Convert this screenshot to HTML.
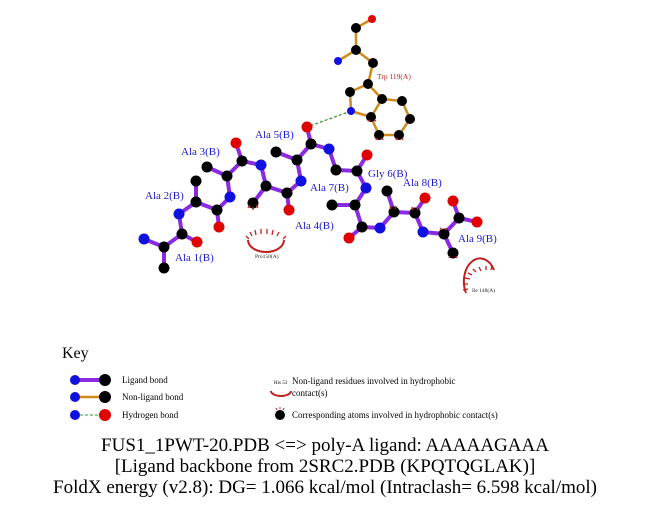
<!DOCTYPE html>
<html><head><meta charset="utf-8"><style>body{margin:0;background:#fff}svg{display:block}text{font-family:"Liberation Serif",serif}</style></head><body>
<svg width="651" height="511" viewBox="0 0 651 511" xmlns="http://www.w3.org/2000/svg">
<g stroke="#d08c1a" stroke-width="2.5" fill="none">
<path d="M372,19 L356,28 L356,50 L338,61 M356,50 L373,63 L368,84 L350,92 L351,111 L371,117 L382,99 L368,84 M382,99 L402,101 L410,119 L399,135 L379,135 L371,117"/>
</g>
<line x1="351" y1="111" x2="307" y2="127" stroke="#3a9a3a" stroke-width="1.3" stroke-dasharray="3,2"/>
<g stroke="#8a2be2" stroke-width="4" fill="none" stroke-linecap="round">
<path d="M307,127 L311,144 L329,149 L336,170 L357,171 L367,155 M357,171 L366,188 L355,205 L332,205 M355,205 L362,227 L349,238 M362,227 L380,228 L394,212 L387,191 M394,212 L415,213 L425,198 M415,213 L423,232 L444,234 L459,218 L453,201 M459,218 L477,222 M444,234 L453,253"/>
<path d="M311,144 L297,160 L276,152 M297,160 L301,181 L287,193 L289,210 M287,193 L266,186 L253,203 M266,186 L261,165 L242,161 L236,143 M242,161 L227,176 L207,167 M227,176 L230,197 L217,210 L219,227 M217,210 L196,202 L196,181 M196,202 L179,214 L182,234 L197,242 M182,234 L164,247 L144,239 M164,247 L164,268"/>
</g>
<g fill="#000">
<circle cx="356" cy="28" r="5"/><circle cx="356" cy="50" r="5"/><circle cx="373" cy="63" r="5"/><circle cx="368" cy="84" r="5"/><circle cx="350" cy="92" r="5"/><circle cx="371" cy="117" r="5"/><circle cx="382" cy="99" r="5"/><circle cx="402" cy="101" r="5"/><circle cx="410" cy="119" r="5"/><circle cx="399" cy="135" r="5"/><circle cx="379" cy="135" r="5"/>
<circle cx="311" cy="144" r="5.5"/><circle cx="297" cy="160" r="5.5"/><circle cx="276" cy="152" r="5.5"/><circle cx="287" cy="193" r="5.5"/><circle cx="266" cy="186" r="5.5"/><circle cx="253" cy="203" r="5.5"/><circle cx="242" cy="161" r="5.5"/><circle cx="227" cy="176" r="5.5"/><circle cx="207" cy="167" r="5.5"/><circle cx="217" cy="210" r="5.5"/><circle cx="196" cy="202" r="5.5"/><circle cx="196" cy="181" r="5.5"/><circle cx="182" cy="234" r="5.5"/><circle cx="164" cy="247" r="5.5"/><circle cx="164" cy="268" r="5.5"/>
<circle cx="336" cy="170" r="5.5"/><circle cx="357" cy="171" r="5.5"/><circle cx="355" cy="205" r="5.5"/><circle cx="332" cy="205" r="5.5"/><circle cx="362" cy="227" r="5.5"/><circle cx="394" cy="212" r="5.5"/><circle cx="387" cy="191" r="5.5"/><circle cx="415" cy="213" r="5.5"/><circle cx="444" cy="234" r="5.5"/><circle cx="459" cy="218" r="5.5"/><circle cx="453" cy="253" r="5.5"/>
</g>
<g fill="#e00000"><circle cx="372" cy="19" r="4"/><circle cx="307" cy="127" r="5.5"/><circle cx="289" cy="210" r="5.5"/><circle cx="236" cy="143" r="5.5"/><circle cx="219" cy="227" r="5.5"/><circle cx="197" cy="242" r="5.5"/><circle cx="367" cy="155" r="5.5"/><circle cx="349" cy="238" r="5.5"/><circle cx="425" cy="198" r="5.5"/><circle cx="453" cy="201" r="5.5"/><circle cx="477" cy="222" r="5.5"/></g>
<g fill="#1010e0"><circle cx="338" cy="61" r="4"/><circle cx="351" cy="111" r="4"/><circle cx="329" cy="149" r="5.5"/><circle cx="301" cy="181" r="5.5"/><circle cx="261" cy="165" r="5.5"/><circle cx="230" cy="197" r="5.5"/><circle cx="179" cy="214" r="5.5"/><circle cx="144" cy="239" r="5.5"/><circle cx="366" cy="188" r="5.5"/><circle cx="380" cy="228" r="5.5"/><circle cx="423" cy="232" r="5.5"/></g>
<g stroke="#c02020" stroke-width="1.3" fill="none">
<path d="M248,240 A18,12 0 0 0 284,240" stroke-width="2"/>
<path d="M250,232 l2,4 M255,230 l1,5 M261,229 l0,5 M267,229 l0,5 M273,230 l-1,5 M279,232 l-2,4 M246,236 l3,3 M286,236 l-3,3"/>
<path d="M466,293 A14,20 0 0 1 494,270" stroke-width="2"/>
<path d="M463,290 l5,-1 M463,284 l5,0 M465,278 l5,1 M468,273 l4,2 M473,269 l3,3 M479,267 l2,4 M486,266 l0,4 M492,266 l-1,4"/>
<path d="M248,208 l2,-3 M253,210 l0,-3 M258,208 l-2,-3 M390,206 l1,3 M396,206 l-1,3 M412,207 l1,3 M418,207 l-1,3 M440,228 l2,2 M447,228 l-2,2 M449,258 l1,-2 M457,258 l-1,-2 M376,140 l1,-2 M383,140 l-1,-2 M396,140 l1,-2 M403,140 l-1,-2 M368,121 l2,-1 M376,121 l-2,-1"/>
</g>
<g fill="#1a1acd" font-size="11">
<text x="255" y="138">Ala 5(B)</text><text x="181" y="155">Ala 3(B)</text><text x="145" y="199">Ala 2(B)</text><text x="175" y="261">Ala 1(B)</text><text x="295" y="229">Ala 4(B)</text><text x="310" y="191">Ala 7(B)</text><text x="368" y="177">Gly 6(B)</text><text x="403" y="186">Ala 8(B)</text><text x="458" y="242">Ala 9(B)</text>
</g>
<text x="377" y="79" font-size="7.5" fill="#c02020">Trp 119(A)</text>
<text x="255" y="258" font-size="5.5" fill="#222">Pro150(A)</text>
<text x="472" y="292" font-size="5.5" fill="#222">Ile 148(A)</text>
<text x="62" y="358" font-size="16" fill="#000">Key</text>
<line x1="75" y1="380" x2="105" y2="380" stroke="#8a2be2" stroke-width="4"/>
<line x1="75" y1="397" x2="105" y2="397" stroke="#d08c1a" stroke-width="2.5"/>
<line x1="75" y1="415" x2="105" y2="415" stroke="#3a9a3a" stroke-width="1" stroke-dasharray="3,2"/>
<circle cx="75" cy="380" r="5" fill="#1010e0"/><circle cx="105" cy="380" r="6" fill="#000"/>
<circle cx="75" cy="397" r="5" fill="#1010e0"/><circle cx="105" cy="397" r="6" fill="#000"/>
<circle cx="75" cy="415" r="5" fill="#1010e0"/><circle cx="105" cy="415" r="6" fill="#e00000"/>
<g font-size="9" fill="#000"><text x="122" y="383">Ligand bond</text><text x="122" y="400">Non-ligand bond</text><text x="122" y="418">Hydrogen bond</text>
<text x="292" y="384">Non-ligand residues involved in hydrophobic</text><text x="292" y="396">contact(s)</text><text x="292" y="418">Corresponding atoms involved in hydrophobic contact(s)</text></g>
<text x="274" y="384" font-size="5" fill="#000">His 53</text>
<path d="M271,391 A10,5 0 0 0 291,391" stroke="#c02020" stroke-width="2" fill="none"/>
<circle cx="280" cy="415" r="5" fill="#000"/>
<path d="M276,408 l1,2 M280,407 l0,2 M284,408 l-1,2" stroke="#c02020" stroke-width="1"/>
<g font-size="19" fill="#000" text-anchor="middle"><text x="325" y="451">FUS1_1PWT-20.PDB &lt;=&gt; poly-A ligand: AAAAAGAAA</text><text x="325" y="472">[Ligand backbone from 2SRC2.PDB (KPQTQGLAK)]</text><text x="325" y="493">FoldX energy (v2.8): DG= 1.066 kcal/mol (Intraclash= 6.598 kcal/mol)</text></g>
</svg>
</body></html>
